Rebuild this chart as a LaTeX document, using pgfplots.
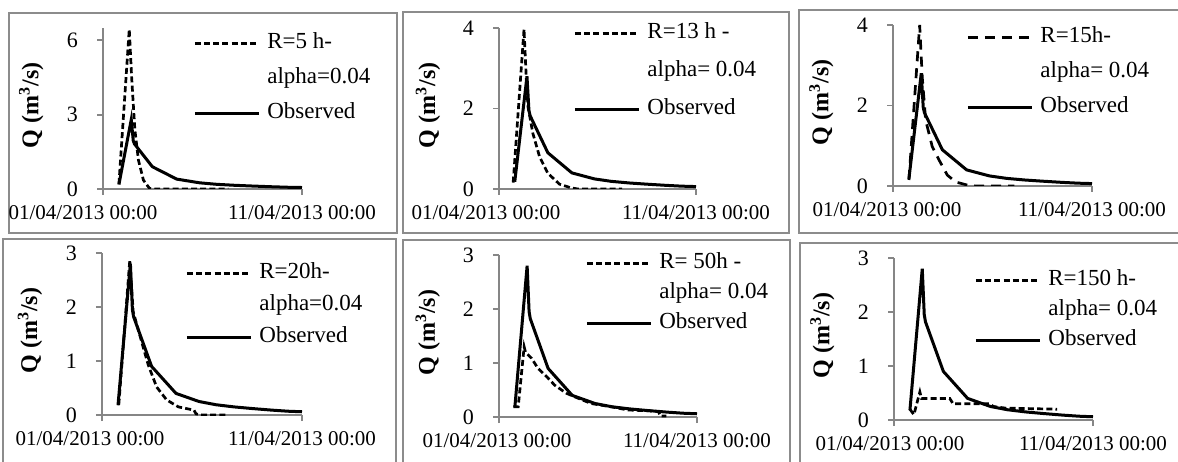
\documentclass[border=0pt]{standalone}
\usepackage{fontspec}
\setmainfont{Liberation Serif}
\usepackage{pgfplots}
\usepackage{pgfplotstable}
\pgfplotsset{compat=1.18}

\definecolor{axgray}{HTML}{868686}
\definecolor{boxgray}{HTML}{8C8C8C}

% observed hydrograph, x in days from 01/04/2013 00:00
\pgfplotstableread{
x q
0.80 0.18
1.42 2.80
1.52 1.95
1.58 1.82
2.48 0.90
3.70 0.40
4.85 0.25
5.70 0.19
6.60 0.15
7.50 0.12
8.50 0.09
9.30 0.07
10.0 0.06
}\obs

\pgfplotsset{
  hydro/.style={
    scale only axis,
    xmin=0, xmax=10, ymin=0,
    axis lines=left, axis line style={-, axgray, line width=0.9pt},
    tick align=outside, major tick length=3pt,
    tick style={axgray, line width=0.9pt},
    xtick={0,10},
    font=\fontsize{10.5}{12}\selectfont,
    yticklabel style={xshift=-6pt, font=\fontsize{11}{12}\selectfont},
    xticklabel style={yshift=-1.5pt},
    /pgf/number format/assume math mode=true,
    ylabel={\textbf{Q (m\textsuperscript{3}/s)}},
    every axis y label/.style={at={(axis description cs:-0.36,0.52)}, anchor=center, rotate=90,
      font=\fontsize{12}{14}\selectfont},
    legend cell align=left,
    legend image code/.code={\draw[##1] (0pt,0pt) -- (32pt,0pt);},
    legend style={draw=none, fill=none, inner sep=0pt, column sep=3.5pt,
      font=\fontsize{11.5}{13}\selectfont,
      nodes={inner sep=0pt, text height=7.5pt, text depth=2.5pt}},
  },
  obs/.style={black, line width=1.5pt},
  sim/.style={black, line width=1.35pt, dash pattern=on 3pt off 1.6pt},
  lgd/.style n args={3}{legend style={at={(axis description cs:#1,#2)}, anchor=north west, row sep=#3}},
}

\begin{document}
\begin{tikzpicture}
\useasboundingbox (0,0) rectangle (589pt,230.5pt);
\begin{scope}[boxgray, line width=1pt]
\draw (4.5pt,114pt) rectangle (198.5pt,224pt);
\draw (201.5pt,114pt) rectangle (394.5pt,224.5pt);
\draw (399.5pt,114pt) rectangle (592pt,225.5pt);
\draw (1.5pt,-2pt) rectangle (198pt,111pt);
\draw (201.5pt,-2pt) rectangle (395pt,110.5pt);
\draw (400pt,-2pt) rectangle (592pt,109pt);
\end{scope}

% R = 5 h
\begin{axis}[hydro, at={(51.5pt,136pt)}, anchor=south west, width=99.5pt, height=80.5pt,
  ymax=6.5, ytick={0,3,6},
  xticklabels={{\kern-20pt 01/04/2013 00:00},{11/04/2013 00:00}},
  lgd={0.452}{0.969}{7.5pt}]
\addplot[sim] coordinates {(0.8,0.2) (1.32,6.45) (1.44,4.5) (1.6,2.4) (1.78,1.17) (2.03,0.36) (2.33,0.03) (2.6,0) (6.3,0)};
\addlegendentry{R=5 h-}
\addlegendimage{empty legend}
\addlegendentry{alpha=0.04}
\addplot[obs] table[x=x,y=q] {\obs};
\addlegendentry{Observed}
\end{axis}

% R = 13 h
\begin{axis}[hydro, at={(249.5pt,136pt)}, anchor=south west, width=98.5pt, height=80.5pt,
  ymax=4, ytick={0,2,4},
  xticklabels={{\kern-13pt 01/04/2013 00:00},{11/04/2013 00:00}},
  lgd={0.376}{1.031}{9pt}]
\addplot[sim] coordinates {(0.72,0.16) (1.27,3.97) (1.39,2.7) (1.47,2.05) (1.72,1.38) (2.06,0.8) (2.48,0.39) (3.07,0.12) (3.65,0.03) (4.0,0) (6.25,0)};
\addlegendentry{R=13 h -}
\addlegendimage{empty legend}
\addlegendentry{alpha= 0.04}
\addplot[obs] table[x=x,y=q] {\obs};
\addlegendentry{Observed}
\end{axis}

% R = 15 h
\begin{axis}[hydro, at={(446.5pt,137.5pt)}, anchor=south west, width=99.5pt, height=80.5pt,
  ymax=4, ytick={0,2,4},
  xticklabels={{\kern-6pt 01/04/2013 00:00},{11/04/2013 00:00}},
  lgd={0.367}{0.988}{7.5pt}]
\addplot[sim, dash pattern=on 5pt off 3.5pt] coordinates {(0.8,0.15) (1.34,4.0) (1.47,2.7) (1.64,1.64) (1.97,0.98) (2.31,0.65) (2.73,0.27) (3.15,0.1) (3.75,0.02) (4.2,0) (6.1,0)};
\addlegendentry{R=15h-}
\addlegendimage{empty legend}
\addlegendentry{alpha= 0.04}
\addplot[obs] table[x=x,y=q] {\obs};
\addlegendentry{Observed}
\end{axis}

% R = 20 h
\begin{axis}[hydro, at={(51pt,23pt)}, anchor=south west, width=100pt, height=81pt,
  ymax=3, ytick={0,1,2,3},
  xticklabels={{\kern-12pt 01/04/2013 00:00},{11/04/2013 00:00}},
  lgd={0.415}{0.938}{6pt}]
\addplot[sim] coordinates {(0.84,0.19) (1.39,2.87) (1.56,1.91) (1.98,1.36) (2.31,0.93) (2.73,0.52) (3.23,0.28) (3.82,0.15) (4.6,0.09) (4.7,0.02) (5.0,0) (6.25,0)};
\addlegendentry{R=20h-}
\addlegendimage{empty legend}
\addlegendentry{alpha=0.04}
\addplot[obs] table[x=x,y=q] {\obs};
\addlegendentry{Observed}
\end{axis}

% R = 50 h
\begin{axis}[hydro, at={(249.5pt,22pt)}, anchor=south west, width=99pt, height=81pt,
  ymax=3, ytick={0,1,2,3},
  xticklabels={{\kern-2pt 01/04/2013 00:00},{11/04/2013 00:00}},
  lgd={0.434}{1.012}{5pt}]
\addplot[sim] coordinates {(0.72,0.19) (0.97,0.19) (1.27,1.3) (1.34,1.2) (1.64,1.09) (1.97,0.9) (2.4,0.75) (2.81,0.59) (3.4,0.44) (3.98,0.35) (4.65,0.25) (5.65,0.19) (6.5,0.13) (7.84,0.11) (8.05,0.1) (8.15,0.02) (8.45,0.02)};
\addlegendentry{R= 50h -}
\addlegendimage{empty legend}
\addlegendentry{alpha= 0.04}
\addplot[obs] table[x=x,y=q] {\obs};
\addlegendentry{Observed}
\end{axis}

% R = 150 h
\begin{axis}[hydro, at={(447pt,20.5pt)}, anchor=south west, width=99.5pt, height=81pt,
  ymax=3, ytick={0,1,2,3},
  xticklabels={{\kern-4pt 01/04/2013 00:00},{11/04/2013 00:00}},
  lgd={0.402}{0.926}{5pt}]
\addplot[sim] coordinates {(0.8,0.2) (1.0,0.1) (1.3,0.52) (1.38,0.4) (2.8,0.4) (2.97,0.3) (4.8,0.3) (5.0,0.25) (5.6,0.22) (8.2,0.2)};
\addlegendentry{R=150 h-}
\addlegendimage{empty legend}
\addlegendentry{alpha= 0.04}
\addplot[obs] table[x=x,y=q] {\obs};
\addlegendentry{Observed}
\end{axis}
\end{tikzpicture}
\end{document}
